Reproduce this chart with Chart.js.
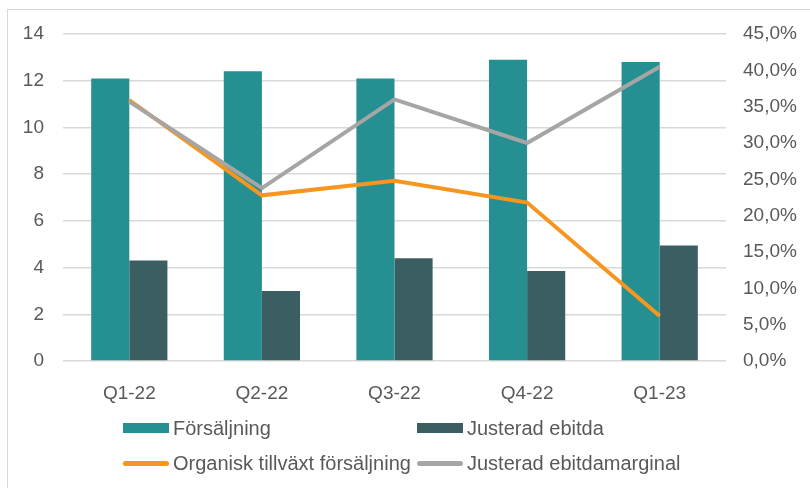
<!DOCTYPE html>
<html>
<head>
<meta charset="utf-8">
<script src="https://cdn.jsdelivr.net/npm/chart.js@4"></script>
<style>
  body { margin: 0; background: #fff; font-family: "Liberation Sans", Arial, sans-serif; }
  #wrap { position: relative; width: 810px; height: 488px; overflow: hidden; }
  #frame { position: absolute; left: 7px; top: 9px; width: 830px; height: 520px; border: 1px solid #d9d9d9; }
  canvas { position: absolute; left: 0; top: 0; }
  .leg { position: absolute; display: flex; align-items: center; font-size: 20px; line-height: 24px; color: #595959; white-space: nowrap; }
  .sw { width: 46px; margin-right: 4px; }
</style>
</head>
<body>
<div id="wrap">
  <div id="frame"></div>
  <canvas id="chart" width="810" height="488"></canvas>
  <div id="legend"></div>
</div>
<script>
// quarters on the x axis
const quarters = ['Q1-22', 'Q2-22', 'Q3-22', 'Q4-22', 'Q1-23'];

// left axis values
const forsaljning = [12.1, 12.4, 12.1, 12.9, 12.8];
const justeradEbitda = [4.3, 3.0, 4.4, 3.85, 4.95];

// right axis values, in percent
const organiskTillvaxt = [35.9, 22.8, 24.8, 21.8, 6.2];
const ebitdaMarginal = [35.7, 23.8, 36.0, 30.0, 40.5];

const font = { family: '"Liberation Sans", Arial, sans-serif', size: 19 };
const textColor = '#595959';

const chart = new Chart(document.getElementById('chart'), {
  type: 'bar',
  data: {
    labels: quarters,
    datasets: [
      {
        label: 'Försäljning',
        data: forsaljning,
        backgroundColor: '#268F92',
        yAxisID: 'y',
        order: 2,
      },
      {
        label: 'Justerad ebitda',
        data: justeradEbitda,
        backgroundColor: '#3B5E62',
        yAxisID: 'y',
        order: 3,
      },
      {
        type: 'line',
        label: 'Organisk tillväxt försäljning',
        data: organiskTillvaxt,
        borderColor: '#F7961E',
        backgroundColor: '#F7961E',
        borderWidth: 4,
        pointRadius: 0,
        yAxisID: 'y1',
        order: 1,
      },
      {
        type: 'line',
        label: 'Justerad ebitdamarginal',
        data: ebitdaMarginal,
        borderColor: '#A5A5A5',
        backgroundColor: '#A5A5A5',
        borderWidth: 4,
        pointRadius: 0,
        yAxisID: 'y1',
        order: 0,
      },
    ],
  },
  options: {
    responsive: false,
    animation: false,
    layout: { padding: { top: 34 } },
    datasets: {
      bar: { categoryPercentage: 0.575, barPercentage: 1 },
    },
    plugins: {
      legend: { display: false },
      tooltip: { enabled: false },
    },
    scales: {
      x: {
        grid: { display: false },
        border: { display: false },
        ticks: { font: font, color: textColor, padding: 13 },
        afterFit: (axis) => { axis.height = 127; },
      },
      y: {
        position: 'left',
        min: 0,
        max: 14,
        ticks: { stepSize: 2, font: font, color: textColor, padding: 19 },
        grid: { color: '#d9d9d9', lineWidth: 1.5, drawTicks: false },
        border: { display: false },
        afterFit: (axis) => { axis.width = 63; },
      },
      y1: {
        position: 'right',
        min: 0,
        max: 45,
        ticks: {
          stepSize: 5,
          font: font,
          color: textColor,
          padding: 17,
          callback: (v) => v.toFixed(1).replace('.', ',') + '%',
        },
        grid: { display: false, drawTicks: false },
        border: { display: false },
        afterFit: (axis) => { axis.width = 84; },
      },
    },
  },
});

// legend in two columns like the original
const legendPos = [
  { left: 123, top: 416 },
  { left: 417, top: 416 },
  { left: 123, top: 451 },
  { left: 417, top: 451 },
];
const legend = document.getElementById('legend');
chart.data.datasets.forEach((ds, i) => {
  const item = document.createElement('div');
  item.className = 'leg';
  item.style.left = legendPos[i].left + 'px';
  item.style.top = legendPos[i].top + 'px';
  const sw = document.createElement('span');
  sw.className = 'sw';
  if (ds.type === 'line') {
    sw.style.height = '5px';
    sw.style.borderRadius = '3px';
  } else {
    sw.style.height = '10px';
  }
  sw.style.background = ds.backgroundColor;
  const txt = document.createElement('span');
  txt.textContent = ds.label;
  item.appendChild(sw);
  item.appendChild(txt);
  legend.appendChild(item);
});
</script>
</body>
</html>
